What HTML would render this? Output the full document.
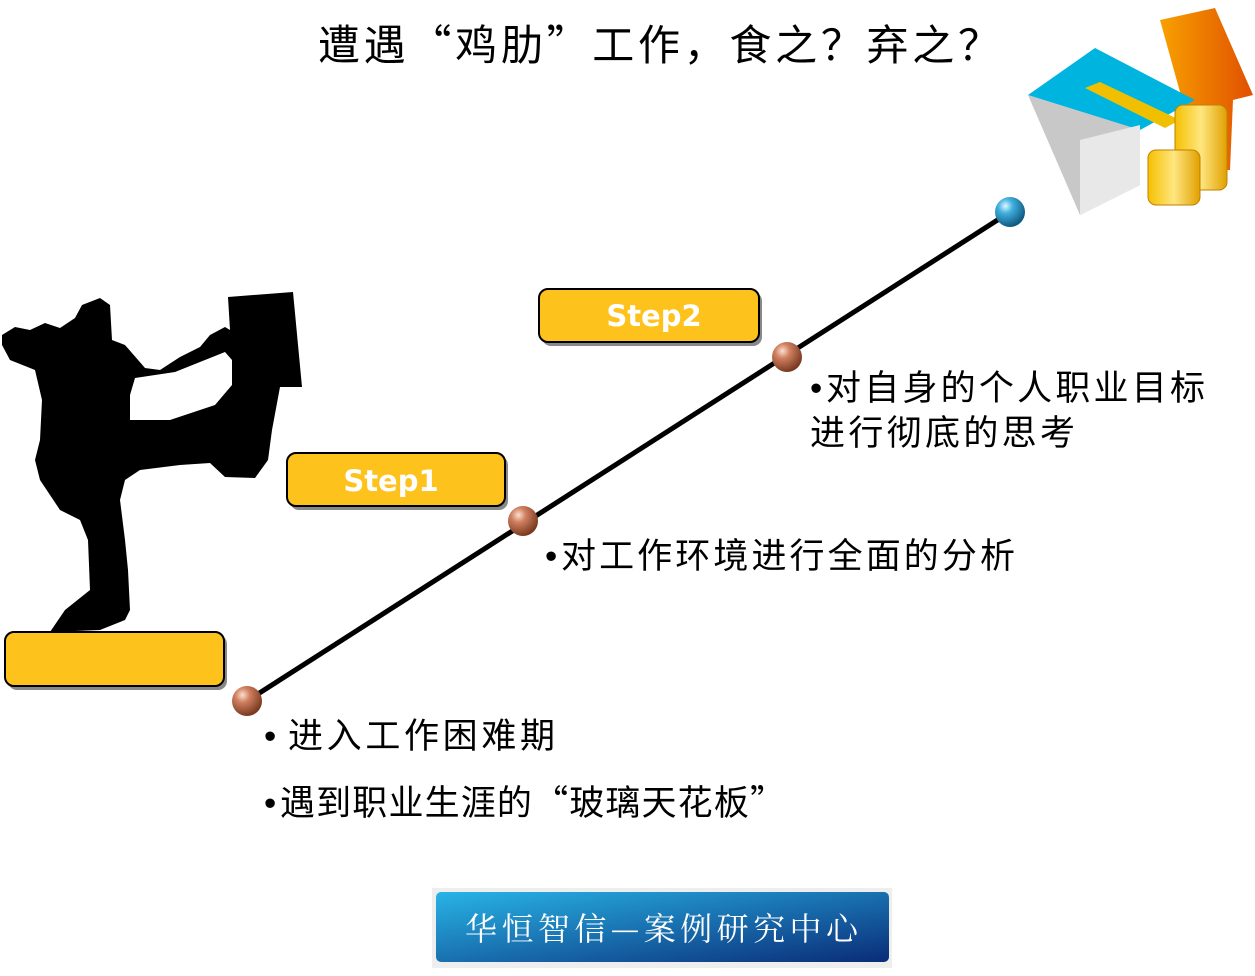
<!DOCTYPE html>
<html><head><meta charset="utf-8"><style>
body{margin:0;background:#fff;}
.t{font-family:"Noto Sans CJK SC",sans-serif;}
.b{font-family:"Liberation Sans",sans-serif;}
</style></head><body>
<svg width="1255" height="971" viewBox="0 0 1255 971" xmlns="http://www.w3.org/2000/svg">
<defs>
<radialGradient id="cb" cx="0.35" cy="0.3" r="0.7"><stop offset="0" stop-color="#fbe0d0"/><stop offset="0.35" stop-color="#d08060"/><stop offset="1" stop-color="#7a3a20"/></radialGradient>
<radialGradient id="bb" cx="0.35" cy="0.3" r="0.7"><stop offset="0" stop-color="#e0f6ff"/><stop offset="0.35" stop-color="#40b0e0"/><stop offset="1" stop-color="#105a80"/></radialGradient>
<linearGradient id="btn" x1="0" y1="0" x2="1" y2="1"><stop offset="0" stop-color="#28b4e6"/><stop offset="1" stop-color="#0a2c78"/></linearGradient>
<linearGradient id="gold" x1="0" y1="0" x2="1" y2="0"><stop offset="0" stop-color="#f5c000"/><stop offset="0.5" stop-color="#ffe680"/><stop offset="1" stop-color="#e0a000"/></linearGradient>
<linearGradient id="arr" x1="0" y1="0" x2="1" y2="0"><stop offset="0" stop-color="#f8a000"/><stop offset="1" stop-color="#e05000"/></linearGradient>
</defs>
<text x="318" y="60" class="t" font-size="42" fill="#000" textLength="682" lengthAdjust="spacing">遭遇“鸡肋”工作，食之？弃之？</text>

<polygon points="1160,20 1215,8 1253,95 1233,100 1230,170 1205,170 1200,105 1185,110" fill="url(#arr)"/>
<polygon points="1028,95 1080,215 1140,185 1140,130" fill="#c8c8c8"/>
<polygon points="1028,95 1140,130 1195,100 1095,48" fill="#00b4e0"/>
<polygon points="1085,88 1100,82 1180,120 1165,128" fill="#f0c000"/>
<polygon points="1080,215 1140,185 1140,125 1080,140" fill="#e8e8e8"/>
<g fill="url(#gold)" stroke="#c08000" stroke-width="1">
<rect x="1175" y="105" width="52" height="85" rx="8"/>
<rect x="1148" y="150" width="52" height="55" rx="8"/>
</g>

<line x1="247" y1="701" x2="1010" y2="212" stroke="#000" stroke-width="5"/>

<polygon fill="#000" points="2,335 15,327 30,330 45,323 60,328 75,318 82,305 100,298 110,305 112,340 125,345 145,368 160,370 180,357 200,347 210,335 225,327 230,330 228,297 293,292 302,387 280,387 272,430 268,460 255,478 225,477 210,463 180,465 140,470 125,480 120,500 125,540 128,570 130,610 125,620 100,630 50,632 65,610 90,590 88,540 80,520 60,510 40,480 35,460 40,440 42,400 35,370 10,360 2,345"/>
<polygon fill="#fff" points="130,395 135,378 175,372 200,362 225,352 232,360 232,385 215,405 170,420 130,420"/>

<g stroke="#000" stroke-width="2" fill="#fdc21c">
<rect x="8" y="635" width="219" height="55" rx="9" fill="#888" stroke="none"/>
<rect x="5" y="632" width="219" height="54" rx="9"/>
<rect x="290" y="456" width="218" height="54" rx="9" fill="#888" stroke="none"/>
<rect x="287" y="453" width="218" height="53" rx="9"/>
<rect x="542" y="292" width="220" height="54" rx="9" fill="#888" stroke="none"/>
<rect x="539" y="289" width="220" height="53" rx="9"/>
</g>
<text x="391" y="491" text-anchor="middle" font-family="'DejaVu Sans',sans-serif" font-size="29" font-weight="bold" fill="#fff">Step1</text>
<text x="654" y="326" text-anchor="middle" font-family="'DejaVu Sans',sans-serif" font-size="29" font-weight="bold" fill="#fff">Step2</text>

<circle cx="247" cy="701" r="15" fill="url(#cb)"/>
<circle cx="523" cy="521" r="15" fill="url(#cb)"/>
<circle cx="787" cy="357" r="15" fill="url(#cb)"/>
<circle cx="1010" cy="212" r="15" fill="url(#bb)"/>

<g class="t" font-size="35" fill="#000">
<text x="810" y="400" class="b">•</text><text x="826" y="400" textLength="379" lengthAdjust="spacing">对自身的个人职业目标</text>
<text x="810" y="445" textLength="265" lengthAdjust="spacing">进行彻底的思考</text>
<text x="545" y="568" class="b">•</text><text x="561" y="568" textLength="454" lengthAdjust="spacing">对工作环境进行全面的分析</text>
<text x="264" y="748" class="b">•</text><text x="288" y="748" textLength="267" lengthAdjust="spacing">进入工作困难期</text>
<text x="264" y="815" class="b">•</text><text x="280" y="815" textLength="505" lengthAdjust="spacing">遇到职业生涯的“玻璃天花板”</text>
</g>

<rect x="432" y="888" width="460" height="80" fill="#eee"/>
<rect x="436" y="892" width="453" height="70" rx="5" fill="url(#btn)"/>
<text x="465" y="940" font-family="'Noto Serif CJK SC',serif" font-size="32" fill="#fff" textLength="393" lengthAdjust="spacing">华恒智信—案例研究中心</text>
</svg>
</body></html>
